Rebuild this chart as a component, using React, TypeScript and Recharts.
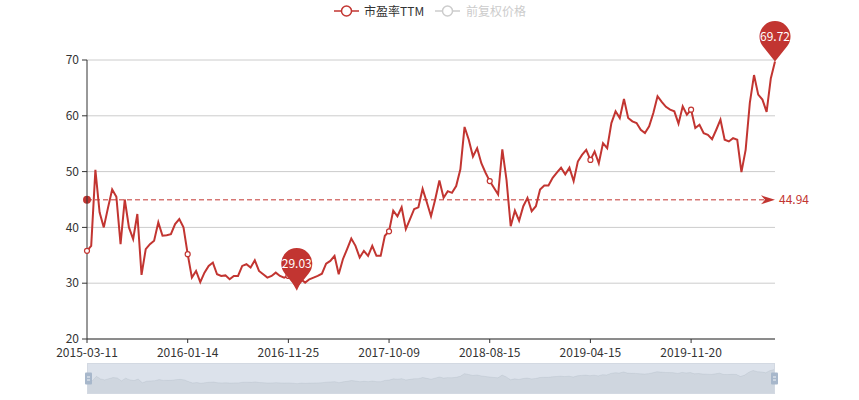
import { LineChart, Line, XAxis, YAxis, CartesianGrid, ReferenceLine, ReferenceDot, Brush, AreaChart, Area } from 'recharts'

// x axis labels, one every 24 points
const tickDates = ['2015-03-11', '2016-01-14', '2016-11-25', '2017-10-09', '2018-08-15', '2019-04-15', '2019-11-20']
const yTicks = [20, 30, 40, 50, 60, 70]

// PE TTM (~ every 2 weeks)
const peTTM = [
  35.8, 36.7, 50.3, 42.7, 40, 43.5, 46.8, 45.5, 37, 45, 40, 37.9, 42.4, 31.5, 36.1, 37, 37.6, 40.9, 38.5, 38.6,
  38.8, 40.6, 41.5, 40, 35.2, 31, 32.2, 30.2, 31.9, 33.1, 33.7, 31.6, 31.3, 31.4, 30.7, 31.3, 31.3, 33.1, 33.4, 32.8,
  34.1, 32.2, 31.6, 31, 31.3, 31.9, 31.3, 31, 31.3, 30.4, 29.03, 30.7, 30.1, 30.7, 31, 31.3, 31.7, 33.5, 34, 34.9,
  31.6, 34.3, 36.1, 38, 36.7, 34.6, 35.8, 34.9, 36.7, 34.9, 34.9, 38.5, 39.3, 43, 42, 43.6, 39.7, 41.5, 43.3, 43.6,
  46.9, 44.5, 42, 45, 48.4, 45.3, 46.5, 46.2, 47.4, 50.4, 58, 55.7, 52.7, 54.2, 51.5, 49.8, 48.3, 47.1, 45.9, 54,
  48.5, 40.2, 43, 41.2, 43.8, 45.3, 42.9, 43.8, 46.8, 47.5, 47.5, 48.9, 49.8, 50.7, 49.5, 50.7, 48.3, 51.8, 53, 53.9,
  52.1, 53.6, 51.5, 55.1, 54.2, 58.7, 60.8, 59.6, 63, 59.6, 59, 58.7, 57.5, 56.9, 58.1, 60.5, 63.5, 62.5, 61.6, 61.1,
  60.8, 58.6, 61.7, 60.2, 61.1, 57.8, 58.4, 56.9, 56.6, 55.8, 57.5, 59.3, 55.7, 55.4, 56, 55.7, 49.9, 53.9, 62.3, 67.3,
  63.8, 62.9, 60.7, 66.7, 69.72,
]
const peAvg = 44.94

const RED = '#c23531'
const FONT = "'Noto Sans CJK SC', 'Noto Sans', sans-serif"

const data = peTTM.map((pe, i) => ({ idx: i, pe }))
const maxIdx = peTTM.indexOf(Math.max(...peTTM))
const minIdx = peTTM.indexOf(Math.min(...peTTM))

const Pin = (props: any) => {
  const { cx, cy, value } = props
  const d = 25, r = 15.5
  const cy0 = cy - d
  const a = Math.acos(r / d)
  const sx = r * Math.sin(a), sy = r * Math.cos(a)
  return (
    <g>
      <path d={`M${cx},${cy} L${cx - sx},${cy0 + sy} A${r},${r} 0 1 1 ${cx + sx},${cy0 + sy} Z`} fill={RED} />
      <text x={cx} y={cy0 + 4.5} textAnchor="middle" fill="#fff" fontSize={12} fontFamily={FONT}>{value}</text>
    </g>
  )
}

const AvgLine = (props: any) => {
  const { x1, y1, x2 } = props
  const y = y1
  return (
    <g>
      <line x1={x1} y1={y} x2={x2 - 10} y2={y} stroke={RED} strokeDasharray="5 3" strokeWidth={1} />
      <circle cx={x1} cy={y} r={4} fill={RED} />
      <path d={`M${x2},${y} L${x2 - 14},${y - 4.5} L${x2 - 10},${y} L${x2 - 14},${y + 4.5} Z`} fill={RED} />
      <text x={x2 + 4} y={y + 4} fill={RED} fontSize={12} fontFamily={FONT}>{peAvg}</text>
    </g>
  )
}

const renderDot = (p: any) =>
  p.index % 24 === 0
    ? <circle key={p.index} cx={p.cx} cy={p.cy} r={2.5} fill="#fff" stroke={RED} strokeWidth={1.2} />
    : <g key={p.index} />

// dataZoom-like handle
const Handle = (p: any) => {
  const { x, y, width, height } = p
  const hy = y + height / 2 - 6
  return (
    <g>
      <rect x={x} y={hy} width={width} height={12} rx={1} fill="#a7b7cb" />
      <line x1={x + 2} y1={hy + 4.5} x2={x + width - 2} y2={hy + 4.5} stroke="#eef1f5" />
      <line x1={x + 2} y1={hy + 7.5} x2={x + width - 2} y2={hy + 7.5} stroke="#eef1f5" />
    </g>
  )
}

export default function App() {
  return (
    <div style={{ position: 'relative', width: 859, height: 400, fontFamily: FONT }}>
      <style>{'body{margin:0}'}</style>
      {/* data shadow under the slider */}
      <div style={{ position: 'absolute', left: 87, top: 363, width: 688, height: 31, background: '#dce2eb', boxSizing: 'border-box', border: '1px solid #d3d9e2' }}>
        <AreaChart width={686} height={29} data={data} margin={{ top: 0, right: 0, left: 0, bottom: 0 }}>
          <XAxis dataKey="idx" hide />
          <YAxis hide domain={[2, 86]} allowDataOverflow />
          <Area dataKey="pe" stroke="#2f4554" strokeOpacity={0.12} strokeWidth={0.6} fill="#2f4554" fillOpacity={0.075} dot={false} activeDot={false} isAnimationActive={false} />
        </AreaChart>
      </div>
      <svg width={859} height={24} style={{ position: 'absolute', left: 0, top: 0, zIndex: 2 }}>
        <line x1={334} y1={11} x2={359} y2={11} stroke={RED} strokeWidth={1.5} />
        <circle cx={346.5} cy={11} r={5} fill="#fff" stroke={RED} strokeWidth={1.5} />
        <text x={364} y={15.5} fontSize={12} fill="#333" fontFamily={FONT}>市盈率TTM</text>
        <line x1={435} y1={11} x2={460} y2={11} stroke="#ccc" strokeWidth={1.5} />
        <circle cx={447.5} cy={11} r={5} fill="#fff" stroke="#ccc" strokeWidth={1.5} />
        <text x={466} y={15.5} fontSize={12} fill="#ccc" fontFamily={FONT}>前复权价格</text>
      </svg>
      <div style={{ position: 'absolute', left: 0, top: 0 }}>
        <LineChart width={859} height={400} data={data} margin={{ top: 60, right: 84, left: 27, bottom: 0 }}>
          <CartesianGrid yAxisId="pe" vertical={false} stroke="#ccc" />
          <XAxis
            dataKey="idx"
            type="category"
            interval={23}
            height={30}
            tickSize={4}
            tickMargin={5}
            stroke="#333"
            tick={{ fill: '#333', fontSize: 12, fontFamily: FONT }}
            tickFormatter={(v: number) => tickDates[v / 24] ?? ''}
          />
          <YAxis
            yAxisId="pe"
            domain={[20, 70]}
            ticks={yTicks}
            width={60}
            tickSize={5}
            tickMargin={3}
            stroke="#333"
            tick={{ fill: '#333', fontSize: 12, fontFamily: FONT }}
          />
          <ReferenceLine yAxisId="pe" y={peAvg} shape={AvgLine} />
          <Line yAxisId="pe" dataKey="pe" stroke={RED} strokeWidth={2} dot={renderDot} activeDot={false} isAnimationActive={false} />
          <ReferenceDot yAxisId="pe" x={minIdx} y={peTTM[minIdx]} shape={(p: any) => <Pin {...p} value={peTTM[minIdx]} />} />
          <ReferenceDot yAxisId="pe" x={maxIdx} y={peTTM[maxIdx]} shape={(p: any) => <Pin {...p} value={peTTM[maxIdx]} />} />
          <Brush dataKey="idx" x={85} y={363} width={693} height={31} travellerWidth={7} stroke="none" fill="none" traveller={Handle} tickFormatter={() => ''} />
        </LineChart>
      </div>
    </div>
  )
}
